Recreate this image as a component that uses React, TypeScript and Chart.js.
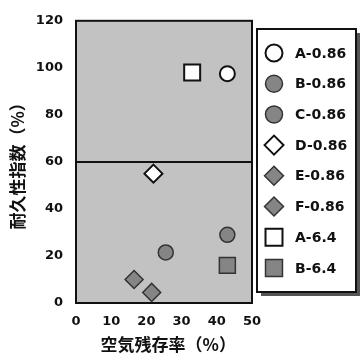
import React, { useEffect, useRef } from 'react';
import { Chart, registerables } from 'chart.js';
import { drawPoint } from 'chart.js/helpers';

Chart.register(...registerables);

// ---- data ----
const seriesLabels = ['A-0.86', 'B-0.86', 'C-0.86', 'D-0.86', 'E-0.86', 'F-0.86', 'A-6.4', 'B-6.4'];
const airRetention = [43, 25.5, 43, 22, 16.5, 21.5, 33, 43];
const durabilityIndex = [97.5, 21.5, 29, 55, 10, 4.5, 98, 16];
const xTickValues = [0, 10, 20, 30, 40, 50];
const yTickValues = [0, 20, 40, 60, 80, 100, 120];
const xTitle = '\u2002空気残存率（%）';
const yTitle = '耐久性指数（%）';

// ---- styles ----
const pointStyles = ['circle', 'circle', 'circle', 'rectRot', 'rectRot', 'rectRot', 'rect', 'rect'];
const filled = [false, true, true, false, true, true, false, true];
const plotRadius: Record<string, number> = { circle: 7.5, rectRot: 9, rect: 11.3 };
const legendRadius: Record<string, number> = { circle: 8.5, rectRot: 9.5, rect: 12 };
const GRAY = '#858585';

const tickFont = { family: '"DejaVu Sans", sans-serif', size: 13, weight: 'bold' as const };
const titleFont = { family: '"Noto Sans CJK JP", sans-serif', size: 17, weight: 'bold' as const };

const panelPlugin = {
  id: 'panel',
  beforeDraw(chart: any) {
    const { ctx, chartArea: a } = chart;
    ctx.save();
    ctx.fillStyle = '#c2c2c2';
    ctx.fillRect(a.left, a.top, a.right - a.left, a.bottom - a.top);
    ctx.restore();
  },
  beforeDatasetsDraw(chart: any) {
    const { ctx, chartArea: a } = chart;
    ctx.save();
    ctx.strokeStyle = '#111';
    ctx.lineWidth = 2;
    ctx.strokeRect(a.left, a.top, a.right - a.left, a.bottom - a.top);
    ctx.restore();
  },
};

const legendPlugin = {
  id: 'boxLegend',
  afterDraw(chart: any) {
    const { ctx } = chart;
    const left = 257, top = 29, right = 356, bottom = 292;
    ctx.save();
    ctx.fillStyle = '#555';
    ctx.fillRect(left + 4, top + 4, right - left, bottom - top);
    ctx.fillStyle = '#fff';
    ctx.fillRect(left, top, right - left, bottom - top);
    ctx.strokeStyle = '#111';
    ctx.lineWidth = 2;
    ctx.strokeRect(left, top, right - left, bottom - top);
    ctx.font = 'bold 14px "DejaVu Sans", sans-serif';
    ctx.textBaseline = 'middle';
    ctx.textAlign = 'left';
    chart.data.datasets.forEach((ds: any, i: number) => {
      const y = 53 + i * 30.7;
      const style = ds.pointStyle;
      ctx.fillStyle = ds.backgroundColor;
      ctx.strokeStyle = ds.borderColor;
      ctx.lineWidth = ds.borderWidth;
      drawPoint(ctx, { pointStyle: style, rotation: 0, radius: legendRadius[style], borderWidth: ds.borderWidth }, 274, y);
      ctx.fillStyle = '#111';
      ctx.fillText(ds.label, 295, y + 1);
    });
    ctx.restore();
  },
};

export default function App() {
  const ref = useRef<HTMLCanvasElement | null>(null);
  useEffect(() => {
    if (!ref.current) return;
    const datasets = seriesLabels.map((label, i) => ({
      label,
      data: [{ x: airRetention[i], y: durabilityIndex[i] }],
      pointStyle: pointStyles[i],
      pointRadius: plotRadius[pointStyles[i]],
      backgroundColor: filled[i] ? GRAY : '#ffffff',
      borderColor: filled[i] ? '#333' : '#111',
      borderWidth: filled[i] ? 1.5 : 2,
      showLine: false,
    }));
    const chart = new Chart(ref.current, {
      type: 'scatter',
      data: { datasets },
      plugins: [panelPlugin, legendPlugin],
      options: {
        animation: false,
        responsive: false,
        layout: { padding: { left: 0, top: 15, right: 109, bottom: 0 } },
        plugins: { legend: { display: false }, tooltip: { enabled: false } },
        scales: {
          x: {
            type: 'linear',
            min: xTickValues[0],
            max: xTickValues[xTickValues.length - 1],
            afterBuildTicks: (s: any) => { s.ticks = xTickValues.map((v) => ({ value: v })); },
            ticks: { font: tickFont, color: '#111', padding: 11, maxRotation: 0 },
            grid: { display: false, drawTicks: false },
            border: { display: false },
            title: { display: true, text: xTitle, font: titleFont, color: '#111', padding: { top: 0, bottom: 5 } },
            afterFit: (s: any) => { s.height = 57; },
          },
          y: {
            type: 'linear',
            min: yTickValues[0],
            max: yTickValues[yTickValues.length - 1],
            afterBuildTicks: (s: any) => { s.ticks = yTickValues.map((v) => ({ value: v })); },
            ticks: { font: tickFont, color: '#111', padding: 13 },
            grid: {
              drawTicks: false,
              lineWidth: 2,
              color: (c: any) => (c.tick && c.tick.value === 60 ? '#111' : 'rgba(0,0,0,0)'),
            },
            border: { display: false },
            title: { display: true, text: yTitle, font: titleFont, color: '#111', padding: { top: 7, bottom: 0 } },
            afterFit: (s: any) => { s.width = 76; },
          },
        },
      },
    });
    return () => chart.destroy();
  }, []);
  return (
    <div style={{ position: 'fixed', left: 0, top: 0, width: 361, height: 360, background: '#fff' }}>
      <canvas ref={ref} width={361} height={360} style={{ display: 'block' }} />
    </div>
  );
}
